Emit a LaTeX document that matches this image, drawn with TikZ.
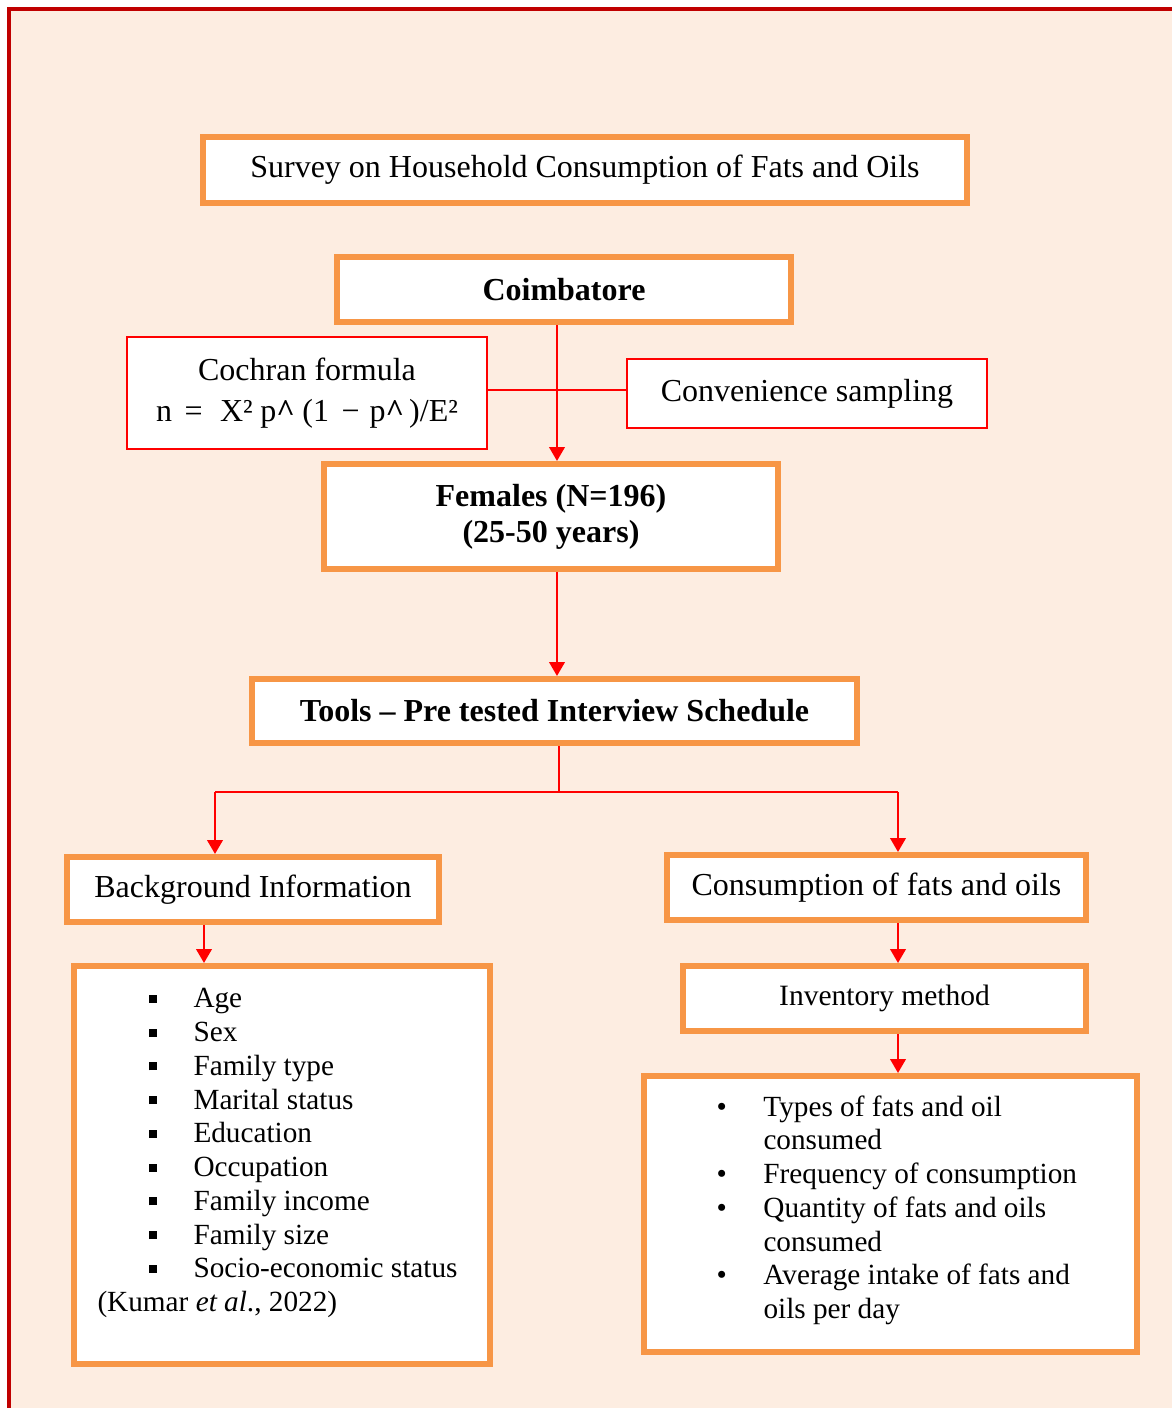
\documentclass[tikz,border=0pt]{standalone}
\usepackage{fontspec}
\setmainfont{Liberation Serif}
\usepackage{xcolor}
\usetikzlibrary{positioning}
\usetikzlibrary{arrows.meta,calc}
\definecolor{peach}{HTML}{FDEDE1}
\definecolor{boxorange}{HTML}{F79646}
\definecolor{framered}{HTML}{C00000}
\tikzset{
  obox/.style={draw=boxorange, line width=2.4pt, fill=white, inner sep=0pt, align=center,
    font=\fontsize{12.8}{14.4}\selectfont},
  rbox/.style={draw=red, line width=0.8pt, fill=white, inner sep=0pt, align=center,
    font=\fontsize{12.8}{14.4}\selectfont},
  listtext/.style={inner sep=0pt, align=left, font=\fontsize{11.7}{13.5}\selectfont},
  conn/.style={red, line width=1pt, -{Triangle[length=5.6pt,width=6.2pt]}},
  link/.style={red, line width=1pt},
}
\newcommand{\sqbullet}{\raisebox{2pt}{\rule{3.2pt}{3.2pt}}}
\newcommand{\sqitem}[1]{\hspace*{20.4pt}\makebox[18pt][l]{\sqbullet}#1}
\newcommand{\rditem}[1]{\makebox[18.8pt][l]{\textbullet}#1}
\newcommand{\rdcont}[1]{\hspace*{18.8pt}#1}
\newcommand{\phat}{p\textbf{\textasciicircum}}

\begin{document}
\begin{tikzpicture}[x=0.4pt,y=-0.4pt]
\useasboundingbox (0,0) rectangle (1172,1408);
\clip (0,0) rectangle (1172,1408);
\fill[peach] (9,9) rectangle (1200,1440);
\draw[framered, line width=1.6pt] (9,9) rectangle (1200,1440);

\node[obox, minimum width=305.6pt, minimum height=26.4pt] (survey) at (585,170)
  {Survey on Household Consumption of Fats and Oils};
\node[obox, minimum width=181.6pt, minimum height=26pt, font=\fontsize{12.8}{14.4}\selectfont\bfseries] (coimb) at (564,289.5)
  {Coimbatore};
\node[rbox, minimum width=144pt, minimum height=44.8pt] (cochran) at (307,393)
  {Cochran formula\\[2pt]n\hspace{5pt}=\hspace{7pt}X²\hspace{3pt}\phat\hspace{3pt}(1\hspace{5pt}−\hspace{4pt}\phat\hspace{2pt})/E²};
\node[rbox, minimum width=144pt, minimum height=27.6pt] (conv) at (807,393.5)
  {Convenience sampling};
\node[obox, minimum width=181.6pt, minimum height=42pt, font=\fontsize{12.8}{14.4}\selectfont\bfseries] (females) at (551,516.5)
  {Females (N=196)\\(25-50 years)};
\node[obox, minimum width=242pt, minimum height=25.6pt, font=\fontsize{12.8}{14.4}\selectfont\bfseries] (tools) at (554.5,711)
  {Tools -- Pre tested Interview Schedule};
\node[obox, minimum width=148.8pt, minimum height=26pt] (bginfo) at (253,889.5)
  {Background Information};
\node[obox, minimum width=167.6pt, minimum height=26pt] (consum) at (876.5,887.5)
  {Consumption of fats and oils};
\node[obox, minimum width=161.2pt, minimum height=26pt, font=\fontsize{11.8}{13.5}\selectfont] (invent) at (884.5,998.5)
  {Inventory method};
\node[obox, minimum width=166.4pt, minimum height=159.2pt] (bglist) at (282,1165) {};
\node[obox, minimum width=197.2pt, minimum height=110.4pt] (conslist) at (890.5,1214) {};

\node[listtext, anchor=north west] (bgitems) at (97,988)
  {\sqitem{Age}\\ \sqitem{Sex}\\ \sqitem{Family type}\\ \sqitem{Marital status}\\
   \sqitem{Education}\\ \sqitem{Occupation}\\ \sqitem{Family income}\\
   \sqitem{Family size}\\ \sqitem{Socio-economic status}\\ (Kumar \textit{et al}., 2022)};
\node[listtext, anchor=north west] (consitems) at (716,1095)
  {\rditem{Types of fats and oil}\\ \rdcont{consumed}\\ \rditem{Frequency of consumption}\\
   \rditem{Quantity of fats and oils}\\ \rdcont{consumed}\\
   \rditem{Average intake of fats and}\\ \rdcont{oils per day}};

\coordinate (spine) at (557,0);
\coordinate (lsplit) at (215,792);
\coordinate (rsplit) at (898,792);
\coordinate (ldrop) at (204,0);
\coordinate (rdrop) at (898,0);
\coordinate (bridge) at (0,390);
\coordinate (stem) at (559,0);

\draw[conn] (coimb.south -| spine) -- (females.north -| spine);
\draw[link] (cochran.east |- bridge) -- (conv.west |- bridge);
\draw[conn] (females.south -| spine) -- (tools.north -| spine);
\draw[link] (tools.south -| stem) -- (lsplit -| stem);
\draw[link] (lsplit) -- (rsplit);
\draw[conn] (lsplit) -- (lsplit |- bginfo.north);
\draw[conn] (rsplit) -- (rsplit |- consum.north);
\draw[conn] (bginfo.south -| ldrop) -- (bglist.north -| ldrop);
\draw[conn] (consum.south -| rdrop) -- (invent.north -| rdrop);
\draw[conn] (invent.south -| rdrop) -- (conslist.north -| rdrop);
\end{tikzpicture}
\end{document}
